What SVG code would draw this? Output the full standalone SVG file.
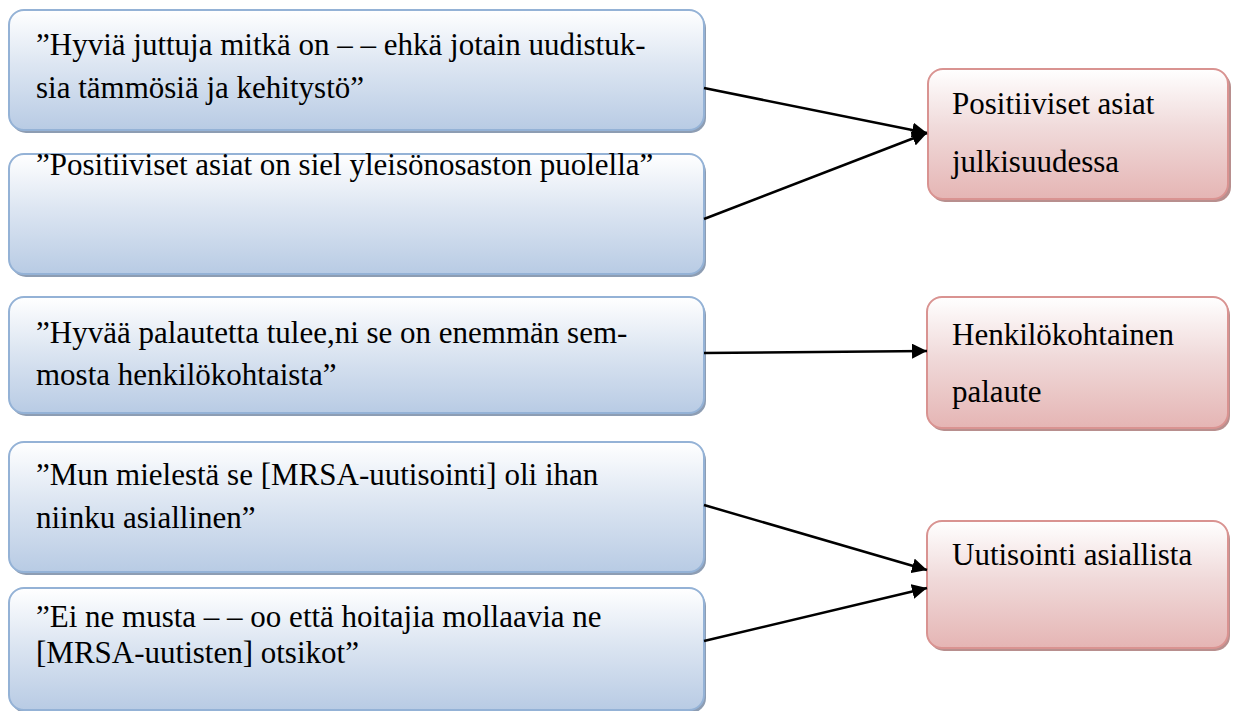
<svg xmlns="http://www.w3.org/2000/svg" width="1240" height="711" viewBox="0 0 1240 711">
<defs>
<linearGradient id="gb" x1="0" y1="0" x2="0" y2="1">
<stop offset="0" stop-color="#ffffff"/>
<stop offset="0.45" stop-color="#dde6f2"/>
<stop offset="1" stop-color="#b8cbe4"/>
</linearGradient>
<linearGradient id="gp" x1="0" y1="0" x2="0" y2="1">
<stop offset="0" stop-color="#ffffff"/>
<stop offset="0.45" stop-color="#f0dada"/>
<stop offset="1" stop-color="#e5b5b4"/>
</linearGradient>
<marker id="ah" viewBox="0 0 10 10" refX="10" refY="5" markerWidth="6" markerHeight="6" orient="auto" markerUnits="strokeWidth">
<path d="M0,0 L10,5 L0,10 Z" fill="#000"/>
</marker>
</defs>
<style>
.bs{fill:#8d9db3;}
.bb{fill:url(#gb);stroke:#94b2d6;stroke-width:2;}
.ps{fill:#b88f8e;}
.pb{fill:url(#gp);stroke:#d99391;stroke-width:2;}
.t{font-family:"Liberation Serif","Times New Roman",serif;font-size:31px;fill:#000;}
.c{stroke:#000;stroke-width:2.5;fill:none;marker-end:url(#ah);}
</style>
<g id="n1">
<rect class="bs" x="11" y="13" width="695" height="120" rx="15"/>
<rect class="bb" x="9" y="10" width="695" height="120" rx="15"/>
<text class="t" x="36" y="55">”Hyviä juttuja mitkä on – – ehkä jotain uudistuk-</text>
<text class="t" x="36" y="98">sia tämmösiä ja kehitystö”</text>
</g>
<g id="n2">
<rect class="bs" x="11" y="157" width="695" height="120" rx="15"/>
<rect class="bb" x="9" y="154" width="695" height="120" rx="15"/>
<text class="t" x="36" y="175">”Positiiviset asiat on siel yleisönosaston puolella”</text>
</g>
<g id="n3">
<rect class="bs" x="11" y="300" width="695" height="116" rx="15"/>
<rect class="bb" x="9" y="297" width="695" height="116" rx="15"/>
<text class="t" x="36" y="343">”Hyvää palautetta tulee,ni se on enemmän sem-</text>
<text class="t" x="36" y="385">mosta henkilökohtaista”</text>
</g>
<g id="n4">
<rect class="bs" x="11" y="445" width="695" height="130" rx="15"/>
<rect class="bb" x="9" y="442" width="695" height="130" rx="15"/>
<text class="t" x="36" y="485">”Mun mielestä se [MRSA-uutisointi] oli ihan</text>
<text class="t" x="36" y="528">niinku asiallinen”</text>
</g>
<g id="n5">
<rect class="bs" x="11" y="591" width="695" height="122" rx="15"/>
<rect class="bb" x="9" y="588" width="695" height="122" rx="15"/>
<text class="t" x="36" y="627">”Ei ne musta – – oo että hoitajia mollaavia ne</text>
<text class="t" x="36" y="663">[MRSA-uutisten] otsikot”</text>
</g>
<g id="p1">
<rect class="ps" x="930" y="72" width="301" height="130" rx="15"/>
<rect class="pb" x="928" y="69" width="300" height="130" rx="15"/>
<text class="t" x="952" y="114">Positiiviset asiat</text>
<text class="t" x="952" y="172">julkisuudessa</text>
</g>
<g id="p2">
<rect class="ps" x="929" y="300" width="301" height="131" rx="15"/>
<rect class="pb" x="927" y="297" width="301" height="131" rx="15"/>
<text class="t" x="952" y="345">Henkilökohtainen</text>
<text class="t" x="952" y="402">palaute</text>
</g>
<g id="p3">
<rect class="ps" x="929" y="524" width="301" height="127" rx="15"/>
<rect class="pb" x="927" y="521" width="301" height="127" rx="15"/>
<text class="t" x="952" y="565">Uutisointi asiallista</text>
</g>
<g id="connectors">
<line class="c" x1="704" y1="88" x2="927" y2="133"/>
<line class="c" x1="704" y1="219" x2="927" y2="133"/>
<line class="c" x1="704" y1="353" x2="927" y2="351"/>
<line class="c" x1="704" y1="505" x2="927" y2="570"/>
<line class="c" x1="704" y1="641" x2="927" y2="588"/>
</g>
</svg>
